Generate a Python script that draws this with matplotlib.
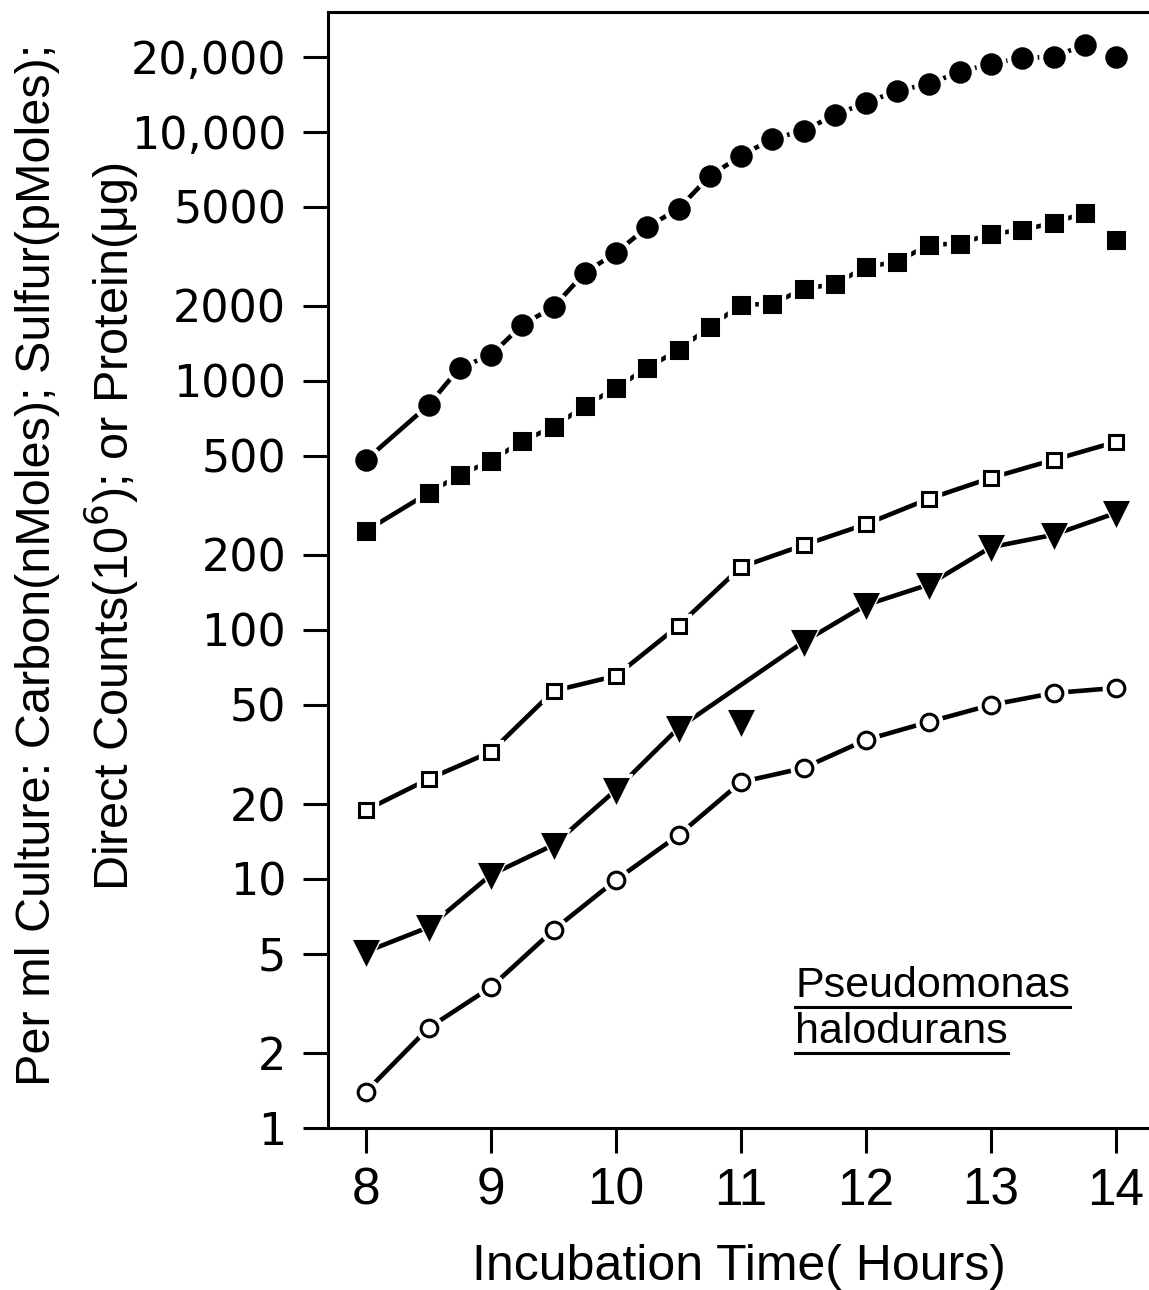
import numpy as np
import matplotlib
matplotlib.use("Agg")
import matplotlib.pyplot as plt
from matplotlib import font_manager
from matplotlib.lines import Line2D

# ── data ─────────────────────────────────────────────────────────
hours_quarter = [8, 8.5, 8.75, 9, 9.25, 9.5, 9.75, 10, 10.25, 10.5, 10.75, 11,
                 11.25, 11.5, 11.75, 12, 12.25, 12.5, 12.75, 13, 13.25, 13.5, 13.75, 14]
hours_half = [8, 8.5, 9, 9.5, 10, 10.5, 11, 11.5, 12, 12.5, 13, 13.5, 14]

filled_circle = [482, 800, 1130, 1270, 1680, 1980, 2720, 3270, 4150, 4910, 6660, 8010,
                 9380, 10100, 11700, 13100, 14600, 15600, 17400, 18800, 19800, 20000,
                 22400, 20000]
filled_square = [250, 355, 419, 477, 574, 653, 794, 937, 1130, 1330, 1650, 2020,
                 2040, 2340, 2450, 2870, 3010, 3520, 3560, 3890, 4040, 4310, 4730, 3680]
open_square = [18.9, 25.2, 32.4, 56.9, 65.4, 104, 179, 219, 266, 336, 408, 482, 569]
filled_triangle = [5.1, 6.4, 10.4, 13.7, 22.8, 40.4, 42.7, 89.5, 126, 152, 215, 241, 295]
open_circle = [1.40, 2.52, 3.68, 6.24, 9.91, 15.0, 24.5, 27.9, 36.2, 42.7, 50.0, 55.8, 58.5]

# which points the drawn curve passes through
quarter_on_line = [True] * 23 + [False]
triangle_on_line = [True] * 6 + [False] + [True] * 6
half_on_line = [True] * 13

y_ticks = [1, 2, 5, 10, 20, 50, 100, 200, 500, 1000, 2000, 5000, 10000, 20000]
y_tick_labels = ["1", "2", "5", "10", "20", "50", "100", "200", "500", "1000",
                 "2000", "5000", "10,000", "20,000"]
x_ticks = [8, 9, 10, 11, 12, 13, 14]

names = {f.name for f in font_manager.fontManager.ttflist}
narrow = "Liberation Sans Narrow" if "Liberation Sans Narrow" in names else "Liberation Sans"


def draw_series(ax, x, y, on_line, marker, ms, filled):
    x = np.asarray(x, dtype=float)
    y = np.asarray(y, dtype=float)
    on = np.asarray(on_line)
    ax.plot(x[on], y[on], color="black", lw=3.3, zorder=2, solid_capstyle="butt")
    # white halo so the line stops short of each symbol
    ax.plot(x, y, ls="none", marker=marker, ms=ms + 7, mfc="white", mec="white",
            zorder=3)
    ax.plot(x, y, ls="none", marker=marker, ms=ms,
            mfc="black" if filled else "white", mec="black", mew=2.2, zorder=4)


fig = plt.figure(figsize=(11.49, 12.90), dpi=100)
ax = fig.add_axes([328 / 1149, 162 / 1290, 821 / 1149, 1116 / 1290])

draw_series(ax, hours_quarter, filled_circle, quarter_on_line, "o", 14, True)
draw_series(ax, hours_quarter, filled_square, quarter_on_line, "s", 12, True)
draw_series(ax, hours_half, open_square, half_on_line, "s", 10.5, False)
draw_series(ax, hours_half, filled_triangle, triangle_on_line, "v", 16, True)
draw_series(ax, hours_half, open_circle, half_on_line, "o", 12, False)

ax.set_yscale("log")
ax.set_ylim(1, 30300)
ax.set_xlim(7.696, 14.264)

ax.set_yticks(y_ticks)
ax.set_yticklabels(y_tick_labels, fontsize=32, family="DejaVu Sans")
ax.yaxis.set_minor_locator(matplotlib.ticker.NullLocator())
ax.set_xticks(x_ticks)
ax.set_xticklabels([str(v) for v in x_ticks], fontsize=37, family=narrow)

ax.tick_params(axis="both", direction="out", length=18, width=2.2, color="black")
ax.tick_params(axis="y", pad=12)
ax.tick_params(axis="x", pad=10)
for side in ("left", "bottom", "top"):
    ax.spines[side].set_linewidth(2.2)
ax.spines["right"].set_visible(False)

ax.set_xlabel("Incubation Time( Hours)", fontsize=36, family=narrow, labelpad=20)

fig.text(38 / 1149, 1 - 565 / 1290,
         "Per ml Culture: Carbon(nMoles); Sulfur(pMoles);",
         rotation=90, ha="center", va="center", fontsize=35, family=narrow)
fig.text(112 / 1149, 1 - 527 / 1290,
         "Direct Counts(10$^6$); or Protein(μg)",
         rotation=90, ha="center", va="center", fontsize=35, family=narrow)

# species name, underlined
species = [("Pseudomonas", 0.1174), ("halodurans", 0.0762)]
texts = [ax.text(0.569, yb, s, transform=ax.transAxes, fontsize=31,
                 ha="left", va="baseline", family=narrow) for s, yb in species]
fig.canvas.draw()
inv = ax.transAxes.inverted()
for t, (_, yb) in zip(texts, species):
    bb = t.get_window_extent()
    x0 = inv.transform((bb.x0, bb.y0))[0]
    x1 = inv.transform((bb.x1, bb.y0))[0]
    ax.add_line(Line2D([x0, x1], [yb - 0.009, yb - 0.009], transform=ax.transAxes,
                       color="black", lw=2.2))

fig.savefig("out.png", dpi=100)
